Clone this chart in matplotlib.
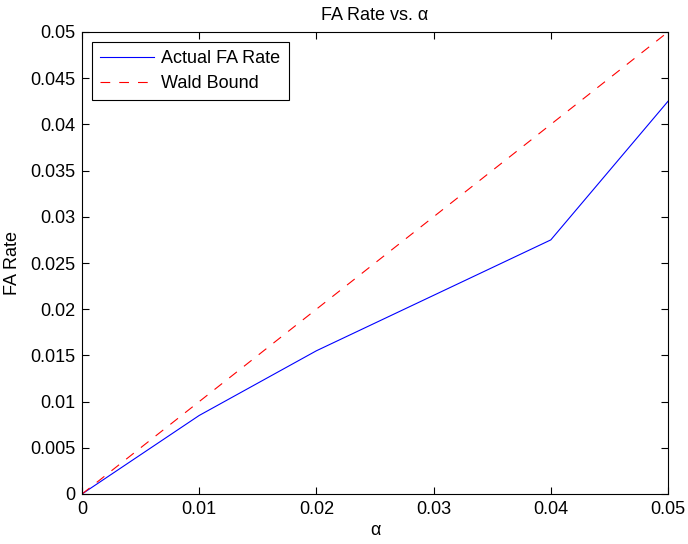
import numpy as np
import matplotlib
matplotlib.use('Agg')
from matplotlib import pyplot as plt

alpha = [0, 0.01, 0.02, 0.03, 0.04, 0.05]
actual_fa = [0, 0.0085, 0.0155, 0.0215, 0.0275, 0.0425]
wald_bound = [0, 0.01, 0.02, 0.03, 0.04, 0.05]

plt.rcParams['font.family'] = ['Liberation Sans', 'DejaVu Sans']
plt.rcParams['font.size'] = 13
plt.rcParams['lines.scale_dashes'] = False

fig = plt.figure(figsize=(6.88, 5.44), dpi=100)
ax = fig.add_axes([82/688, 1 - 494/544, (668-82)/688, (494-32)/544])

ax.plot(alpha, actual_fa, color='blue', lw=0.8, label='Actual FA Rate')
ax.plot(alpha, wald_bound, color='red', lw=0.8, ls=(0, (7, 6.5)), label='Wald Bound')

ax.set_xlim(0, 0.05)
ax.set_ylim(0, 0.05)
ax.set_xticks(np.arange(0, 0.051, 0.01))
ax.set_yticks(np.arange(0, 0.0501, 0.005))
ax.set_xticklabels(['0', '0.01', '0.02', '0.03', '0.04', '0.05'])
ax.set_yticklabels(['0', '0.005', '0.01', '0.015', '0.02', '0.025',
                    '0.03', '0.035', '0.04', '0.045', '0.05'])
ax.tick_params(direction='in', top=True, right=True, length=5, width=0.8, pad=5)
for s in ax.spines.values():
    s.set_linewidth(0.8)

ax.set_xlabel('α', labelpad=3)
ax.set_ylabel('FA Rate', labelpad=6)
ax.set_title('FA Rate vs. α', fontsize=13, pad=9)

leg = ax.legend(loc='upper left', fancybox=False, framealpha=1, edgecolor='black',
                borderaxespad=0.55, handlelength=3.0, handletextpad=0.4,
                borderpad=0.45, labelspacing=0.45)
leg.get_frame().set_linewidth(0.8)

fig.savefig('out.png', dpi=100)
